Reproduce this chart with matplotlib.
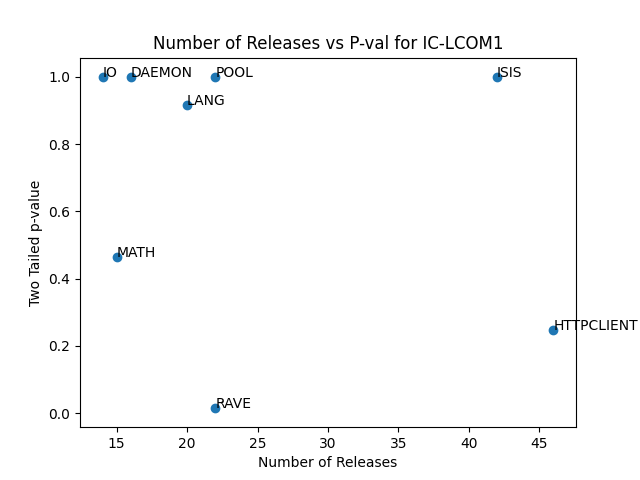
import matplotlib
matplotlib.use('Agg')
import matplotlib.pyplot as plt

names = ['IO', 'DAEMON', 'POOL', 'ISIS', 'LANG', 'MATH', 'HTTPCLIENT', 'RAVE']
releases = [14, 16, 22, 42, 20, 15, 46, 22]
pvals = [1.0, 1.0, 1.0, 1.0, 0.917, 0.464, 0.247, 0.015]

fig, ax = plt.subplots(figsize=(6.4, 4.8), dpi=100)
ax.scatter(releases, pvals)
for name, x, y in zip(names, releases, pvals):
    ax.annotate(name, (x, y))
ax.set_ylim(-0.042, 1.057)
ax.set_xlabel('Number of Releases')
ax.set_ylabel('Two Tailed p-value')
ax.set_title('Number of Releases vs P-val for IC-LCOM1')
fig.savefig('out.png')
